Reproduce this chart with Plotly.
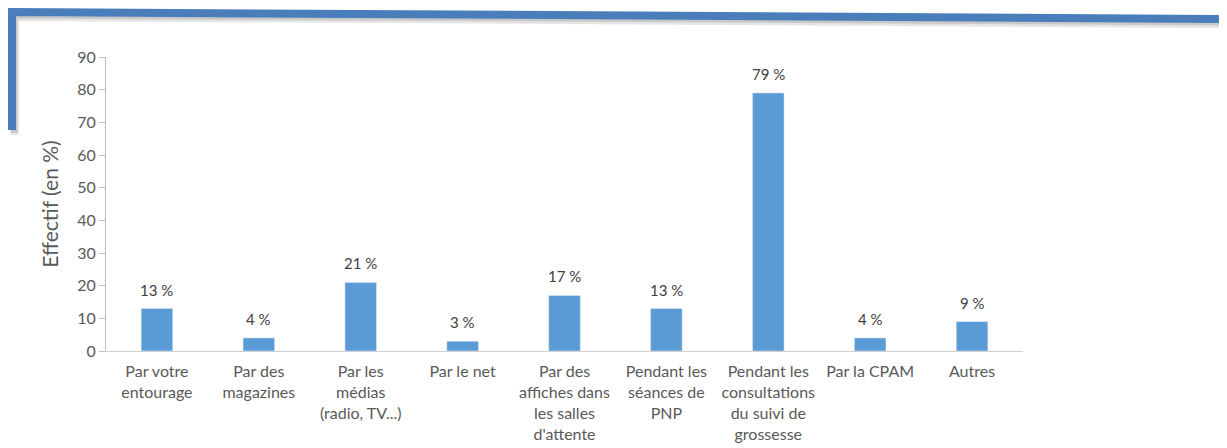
import plotly.graph_objects as go

# donnees
categories = ["Par votre<br>entourage", "Par des<br>magazines", "Par les<br>médias<br>(radio, TV...)",
              "Par le net", "Par des<br>affiches dans<br>les salles<br>d'attente",
              "Pendant les<br>séances de<br>PNP", "Pendant les<br>consultations<br>du suivi de<br>grossesse",
              "Par la CPAM", "Autres"]
values = [13, 4, 21, 3, 17, 13, 79, 4, 9]
labels = [f"{v} %" for v in values]
y_ticks = [0, 10, 20, 30, 40, 50, 60, 70, 80, 90]

# la page ajoute une marge de 8 px autour de la figure
OFF = 8
W, H = 1227 - OFF, 448 - OFF
L, T = 106 - OFF, 57 - OFF
R, B = W - (1023 - OFF), H - (351 - OFF)
pw, ph = W - L - R, H - T - B

def px(x):
    return (x - OFF - L) / pw

def py(y):
    return (H - B - (y - OFF)) / ph

grey = "#595959"
fig = go.Figure()
fig.add_trace(go.Bar(x=categories, y=values, marker_color="#5B9BD5", width=0.31))
for c, v, t in zip(categories, values, labels):
    fig.add_annotation(x=c, y=v, text=t, showarrow=False, yanchor="bottom", yshift=8,
                       font=dict(size=15, color="#404040"))

fig.update_layout(
    width=W, height=H, margin=dict(l=L, r=R, t=T, b=B),
    plot_bgcolor="white", paper_bgcolor="white", showlegend=False,
    font=dict(family="Lato, Open Sans, sans-serif", color=grey, size=16),
)
fig.update_yaxes(range=[0, 90], tickvals=y_ticks, showgrid=False, showline=True,
                 linecolor="#bfbfbf", linewidth=1, ticks="outside", ticklen=6,
                 tickcolor="#bfbfbf", tickfont=dict(size=16, color=grey),
                 title=dict(text="Effectif (en %)", font=dict(size=21, color=grey), standoff=12),
                 zeroline=False, automargin=False)
fig.update_xaxes(showline=True, linecolor="#d0d0d0", linewidth=1, ticks="",
                 tickfont=dict(size=16, color=grey), showgrid=False, ticklabelstandoff=6,
                 automargin=False)

# cadre bleu avec ombre
blue = "#4A7EBB"
for dx, dy, col, w in [(3, 5, "rgba(0,0,0,0.10)", 8), (2, 3, "rgba(0,0,0,0.12)", 7), (0, 0, blue, 8)]:
    fig.add_shape(type="path", xref="paper", yref="paper", line=dict(color=col, width=w),
                  path=f"M {px(12+dx)},{py(130+dy)} L {px(12+dx)},{py(12+dy)} L {px(1230+dx)},{py(19+dy)}")
fig.add_shape(type="line", xref="paper", yref="paper", line=dict(color=blue, width=5),
              x0=px(1227), x1=px(1227), y0=py(16), y1=py(137))

fig.write_html("out.html")
